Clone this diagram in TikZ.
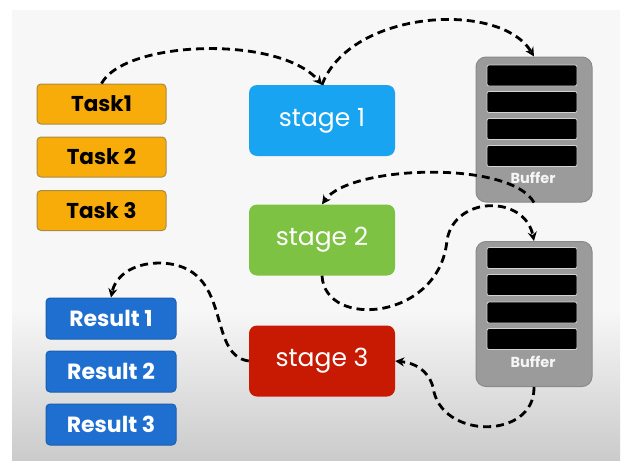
\documentclass[tikz,border=0pt]{standalone}
\usepackage{fontspec}
\setmainfont{Poppins}
\usetikzlibrary{arrows.meta}
\definecolor{bgc}{HTML}{F7F7F7}
\definecolor{bgb}{HTML}{CBCBCB}
\definecolor{taskc}{HTML}{F7AC0A}
\definecolor{taskb}{HTML}{A98C42}
\definecolor{resc}{HTML}{1F6FD1}
\definecolor{resb}{HTML}{1A5FB0}
\definecolor{s1c}{HTML}{19A4F2}
\definecolor{s2c}{HTML}{7DC242}
\definecolor{s3c}{HTML}{C81A02}
\definecolor{bufc}{HTML}{9B9B9B}
\definecolor{bufb}{HTML}{8A8A8A}
\tikzset{
  taskbox/.style={draw=taskb, line width=1pt, fill=taskc, rounded corners=4pt, minimum width=129pt, minimum height=40pt, inner sep=0pt, font=\fontsize{21.5}{21.5}\selectfont\bfseries, text=black},
  resbox/.style={draw=resb, line width=1pt, fill=resc, rounded corners=4pt, minimum width=130pt, minimum height=41pt, inner sep=0pt, font=\fontsize{22}{22}\selectfont\bfseries, text=white},
  stagebox/.style={rounded corners=8pt, minimum width=146pt, minimum height=71pt, inner sep=0pt, font=\fontsize{25}{25}\selectfont, text=white},
  bufbox/.style={draw=bufb, line width=1pt, fill=bufc, rounded corners=10pt, minimum width=116pt, minimum height=145pt, inner sep=0pt},
  bar/.style={draw=gray!35, line width=0.8pt, fill=black, rounded corners=2pt, minimum width=90pt, minimum height=21pt, inner sep=0pt},
  buflabel/.style={font=\fontsize{14.5}{14.5}\selectfont\bfseries, text=white!92!gray, inner sep=0pt},
  flow/.style={line width=2.8pt, dash pattern=on 8pt off 5pt, -{Stealth[length=9pt,width=9pt]}},
}
\begin{document}
\begin{tikzpicture}[x=1pt,y=-1pt]
\useasboundingbox (0,0) rectangle (635,469);
\fill[white] (0,0) rectangle (635,469);
\fill[bgc] (12,10) rectangle (620,310);
\shade[top color=bgc, bottom color=bgb] (12,310) rectangle (620,460);

% tasks
\node[taskbox] (t1) at (101.5,104) {Task1};
\node[taskbox] (t2) at (101.5,157) {Task 2};
\node[taskbox] (t3) at (101.5,210.5) {Task 3};

% results
\node[resbox] (r1) at (111,318.5) {Result 1};
\node[resbox] (r2) at (111,371.5) {Result 2};
\node[resbox] (r3) at (111,424.5) {Result 3};

% stages
\node[stagebox, fill=s1c] (s1) at (322,120.5) {stage 1};
\node[stagebox, fill=s2c] (s2) at (322,240) {stage 2};
\node[stagebox, fill=s3c] (s3) at (322,361) {stage 3};

% buffers
\node[bufbox] (b1) at (534,129.5) {};
\node[bar] (b1a) at (532,75.5) {};
\node[bar] (b1b) at (532,102) {};
\node[bar] (b1c) at (532,129) {};
\node[bar] (b1d) at (532,156) {};
\node[buflabel] (b1l) at (533,178) {Buffer};

\node[bufbox] (b2) at (534,314) {};
\node[bar] (b2a) at (532,258) {};
\node[bar] (b2b) at (532,285) {};
\node[bar] (b2c) at (532,312.5) {};
\node[bar] (b2d) at (532,339) {};
\node[buflabel] (b2l) at (533,362) {Buffer};

% connectors
\draw[flow] (t1.north) .. controls (125,40) and (280,35) .. (s1.north);
\draw[flow] (s1.north) .. controls (350,10) and (500,0) .. (b1.north);
\draw[flow] (b1.south) .. controls (510,160) and (350,165) .. (s2.north);
\coordinate (m4) at (447,240);
\draw[flow] (s2.south) .. controls (325,330) and (440,320) .. (m4) .. controls (455,195) and (525,195) .. (b2.north);
\coordinate (m5) at (433,387);
\draw[flow] (b2.south) .. controls (535,440) and (440,440) .. (m5) .. controls (428,370) and (415,363) .. (s3.east);
\coordinate (m6) at (160,263);
\draw[flow] (s3.west) .. controls (205,355) and (235,265) .. (m6) .. controls (130,263) and (115,278) .. (r1.north);
\end{tikzpicture}
\end{document}
